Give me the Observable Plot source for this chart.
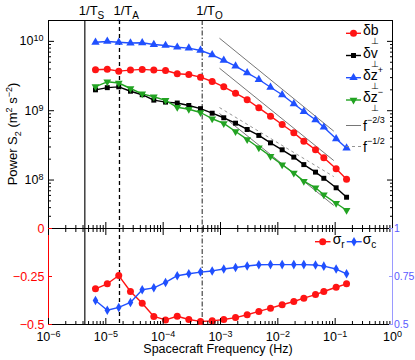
<!DOCTYPE html>
<html><head><meta charset="utf-8">
<script src="https://cdn.jsdelivr.net/npm/d3@7"></script>
<script src="https://cdn.jsdelivr.net/npm/@observablehq/plot@0.6"></script>
<style>
body{margin:0;background:#fff;}
#chart{position:relative;width:415px;height:360px;font-family:"Liberation Sans",Arial,sans-serif;}
#chart svg{position:absolute;left:0;top:0;overflow:visible;}
</style></head><body><div id="chart"></div>
<script>
// ---------- data ----------
const freqHz = [6.6e-6, 1.06e-5, 1.68e-5, 2.69e-5, 4.31e-5, 6.87e-5, 1.10e-4, 1.76e-4, 2.80e-4, 4.48e-4, 7.16e-4, 1.14e-3, 1.83e-3, 2.92e-3, 4.66e-3, 7.45e-3, 1.19e-2, 1.90e-2, 2.84e-2, 4.54e-2, 6.34e-2, 0.104, 0.158];
const powerDb = [3.89e9, 3.97e9, 3.72e9, 3.85e9, 3.94e9, 3.85e9, 3.80e9, 3.41e9, 3.33e9, 3.05e9, 2.64e9, 2.21e9, 1.79e9, 1.44e9, 1.10e9, 8.34e8, 6.32e8, 4.81e8, 3.64e8, 2.73e8, 2.09e8, 1.45e8, 1.03e8];
const powerDv = [2.00e9, 2.15e9, 2.21e9, 1.91e9, 1.70e9, 1.42e9, 1.33e9, 1.29e9, 1.19e9, 1.07e9, 9.20e8, 7.91e8, 6.61e8, 5.36e8, 4.40e8, 3.44e8, 2.73e8, 2.14e8, 1.67e8, 1.30e8, 1.06e8, 7.73e7, 5.65e7];
const powerDzPlus = [9.72e9, 9.98e9, 9.72e9, 9.48e9, 9.55e9, 9.02e9, 8.73e9, 8.24e9, 7.98e9, 7.40e9, 6.41e9, 5.31e9, 4.39e9, 3.52e9, 2.82e9, 2.18e9, 1.70e9, 1.26e9, 9.75e8, 7.40e8, 5.78e8, 3.94e8, 2.88e8];
const powerDzMinus = [2.23e9, 2.61e9, 2.51e9, 2.09e9, 1.75e9, 1.59e9, 1.41e9, 1.12e9, 1.05e9, 9.42e8, 7.66e8, 6.55e8, 5.01e8, 3.85e8, 2.92e8, 2.21e8, 1.66e8, 1.26e8, 9.64e7, 7.73e7, 6.12e7, 4.63e7, 3.67e7];
const sigmaR = [-0.314, -0.288, -0.245, -0.328, -0.389, -0.458, -0.476, -0.457, -0.474, -0.484, -0.481, -0.474, -0.464, -0.449, -0.432, -0.415, -0.397, -0.380, -0.363, -0.344, -0.328, -0.306, -0.288];
const sigmaC = [0.625, 0.574, 0.589, 0.615, 0.681, 0.691, 0.719, 0.754, 0.764, 0.773, 0.779, 0.789, 0.797, 0.805, 0.811, 0.812, 0.812, 0.812, 0.812, 0.810, 0.804, 0.789, 0.764];

const timescaleNames = ["S", "A", "O"];
const timescaleFreq = [4.3e-6, 1.73e-5, 4.8e-4];

const refExponent = ["−2/3", "−2/3", "−1/2", "−2/3"];
const refF0 = [9.6e-4, 9.6e-4, 9.6e-4, 9.6e-4];
const refF1 = [0.0946, 0.0946, 0.0946, 0.0946];
const refP0 = [1.11e10, 4.10e9, 1.11e9, 9.12e8];
const refP1 = [5.07e8, 1.91e8, 1.12e8, 4.30e7];

const xTickValues = [1e-6, 1e-5, 1e-4, 1e-3, 1e-2, 1e-1, 1];
const xTickLabels = ["10^−6", "10^−5", "10^−4", "10^−3", "10^−2", "10^−1", "10^0"];
const yTickValues = [1e8, 1e9, 1e10];
const yTickLabels = ["10^8", "10^9", "10^10"];
const sigmaRTicks = [-0.5, -0.25, 0];
const sigmaRTickLabels = ["−0.5", "−0.25", "0"];
const sigmaCTicks = [0.5, 0.75, 1];
const sigmaCTickLabels = ["0.5", "0.75", "1"];

const seriesNames = ["b", "v", "z+", "z−"];
const xLabel = "Spacecraft Frequency (Hz)";

// ---------- styling ----------
const font = "'Liberation Sans', Arial, sans-serif";
const C = {red: "#ff1414", black: "#000000", blue: "#2050ff", green: "#22a322", axisBlue: "#5a5aff", axisBlueLine: "#9a9aff"};
const series = [
  {name: seriesNames[0], values: powerDb, color: C.red, symbol: "circle", r: 3.5, rotate: 0},
  {name: seriesNames[1], values: powerDv, color: C.black, symbol: "square", r: 2.8, rotate: 0},
  {name: seriesNames[2], values: powerDzPlus, color: C.blue, symbol: "triangle", r: 3.1, rotate: 0},
  {name: seriesNames[3], values: powerDzMinus, color: C.green, symbol: "triangle", r: 2.9, rotate: 180}
];
const refRows = refExponent.map((e, i) => ({e, f0: refF0[i], f1: refF1[i], p0: refP0[i], p1: refP1[i]}));
const xDomain = [1e-6, 1];
const minorOf = (lo, hi) => { const out = []; for (let e = lo; e < hi; e++) for (let m = 2; m <= 9; m++) out.push(m * Math.pow(10, e)); return out; };
const xMinor = minorOf(-6, 0);
const yMinor = minorOf(7, 11).filter(v => v >= 2e7 && v <= 2e10);

const common = {
  width: 415, height: 360, marginLeft: 48, marginRight: 23,
  x: {type: "log", domain: xDomain, axis: null},
  style: {background: "transparent", fontFamily: font, fontSize: "12.5px", overflow: "visible"}
};
const tsRules = () => [
  Plot.ruleX([timescaleFreq[0]], {stroke: "#222", strokeWidth: 1.3}),
  Plot.ruleX([timescaleFreq[1]], {stroke: "#000", strokeWidth: 1.3, strokeDasharray: "4,3"}),
  Plot.ruleX([timescaleFreq[2]], {stroke: "#555", strokeWidth: 1.3, strokeDasharray: "5,2,1.5,2"})
];

// ---------- top panel ----------
const topRows = series.flatMap(s => freqHz.map((f, i) => ({f, p: s.values[i], name: s.name})));
const topPlot = Plot.plot({
  ...common, marginTop: 20, marginBottom: 132,
  y: {type: "log", domain: [2e7, 2e10]},
  marks: [
    ...tsRules(),
    Plot.link(refRows.filter(d => d.e === "−2/3"), {x1: "f0", y1: "p0", x2: "f1", y2: "p1", stroke: "#666", strokeWidth: 0.9}),
    Plot.link(refRows.filter(d => d.e === "−1/2"), {x1: "f0", y1: "p0", x2: "f1", y2: "p1", stroke: "#888", strokeWidth: 0.9, strokeDasharray: "3,3"}),
    ...series.flatMap(s => [
      Plot.line(topRows.filter(d => d.name === s.name), {x: "f", y: "p", stroke: s.color, strokeWidth: 1.4}),
      Plot.dot(topRows.filter(d => d.name === s.name), {x: "f", y: "p", fill: s.color, stroke: "none", symbol: s.symbol, r: s.r, rotate: s.rotate})
    ]),
    Plot.frame({stroke: "#000", strokeWidth: 1}),
    Plot.axisY(yTickValues, {anchor: "left", tickSize: -6, fill: "none", label: null}),
    Plot.axisY(yMinor, {anchor: "left", tickSize: -3, fill: "none", label: null}),
    Plot.axisY(yTickValues, {anchor: "right", tickSize: -6, fill: "none", label: null}),
    Plot.axisY(yMinor, {anchor: "right", tickSize: -3, fill: "none", label: null}),
    Plot.axisY(yTickValues, {anchor: "left", tickSize: 0, tickPadding: 5, label: null, tickFormat: d => yTickLabels[yTickValues.indexOf(d)]}),
    Plot.axisX(xTickValues, {anchor: "bottom", tickSize: -6, fill: "none", label: null}),
    Plot.axisX(xMinor, {anchor: "bottom", tickSize: -3, fill: "none", label: null})
  ]
});

// ---------- bottom panel: sigma_r (left axis) ----------
const rRows = freqHz.map((f, i) => ({f, v: sigmaR[i]}));
const botPlot = Plot.plot({
  ...common, marginTop: 228, marginBottom: 36,
  y: {domain: [-0.5, 0]},
  marks: [
    ...tsRules(),
    Plot.ruleY([sigmaRTicks[0]], {stroke: "#000"}),
    Plot.ruleY([sigmaRTicks[2]], {stroke: "#000"}),
    Plot.ruleX([xDomain[0]], {stroke: "#ff0000"}),
    Plot.line(rRows, {x: "f", y: "v", stroke: C.red, strokeWidth: 1.4}),
    Plot.dot(rRows, {x: "f", y: "v", fill: C.red, r: 3.5}),
    Plot.axisY(sigmaRTicks, {anchor: "left", tickSize: -4, fill: "none", stroke: "#ff0000", label: null}),
    Plot.axisY(sigmaRTicks, {anchor: "left", tickSize: 0, tickPadding: 4, fill: "#ff0000", label: null, tickFormat: d => sigmaRTickLabels[sigmaRTicks.indexOf(d)]}),
    Plot.axisX(xTickValues, {anchor: "bottom", tickSize: -6, fill: "none", label: null}),
    Plot.axisX(xMinor, {anchor: "bottom", tickSize: -3, fill: "none", label: null}),
    Plot.axisX(xTickValues, {anchor: "top", tickSize: -6, fill: "none", label: null}),
    Plot.axisX(xMinor, {anchor: "top", tickSize: -3, fill: "none", label: null}),
    Plot.axisX(xTickValues, {anchor: "bottom", tickSize: 0, tickPadding: 8, label: null, tickFormat: d => xTickLabels[xTickValues.indexOf(d)]})
  ]
});

// ---------- bottom panel: sigma_c (right axis) ----------
const cRows = freqHz.map((f, i) => ({f, v: sigmaC[i]}));
const botCPlot = Plot.plot({
  ...common, marginTop: 228, marginBottom: 36,
  y: {domain: [0.5, 1]},
  marks: [
    Plot.ruleX([xDomain[1]], {stroke: C.axisBlueLine}),
    Plot.line(cRows, {x: "f", y: "v", stroke: C.blue, strokeWidth: 1.4}),
    Plot.dot(cRows, {x: "f", y: "v", fill: C.blue, symbol: "diamond", r: 2.9}),
    Plot.axisY(sigmaCTicks, {anchor: "right", tickSize: -4, fill: "none", stroke: C.axisBlueLine, label: null}),
    Plot.axisY(sigmaCTicks, {anchor: "right", tickSize: 0, tickPadding: 1.5, fill: C.axisBlue, label: null, fontSize: 10.5, tickFormat: d => sigmaCTickLabels[sigmaCTicks.indexOf(d)]})
  ]
});

const chart = document.getElementById("chart");
chart.append(topPlot, botPlot, botCPlot);

// ---------- superscripts in tick labels ----------
for (const svg of [topPlot, botPlot, botCPlot]) {
  svg.querySelectorAll("text").forEach(t => {
    const s = t.textContent;
    if (s.includes("^")) {
      const [base, exp] = s.split("^");
      t.textContent = base;
      const ts = document.createElementNS("http://www.w3.org/2000/svg", "tspan");
      ts.setAttribute("dy", "-0.45em");
      ts.setAttribute("font-size", "0.72em");
      ts.textContent = exp;
      t.appendChild(ts);
    }
  });
}

// ---------- rich text helper ----------
function rich(sel, x, y, parts, {anchor = "start", fill = "#000", size = 13} = {}) {
  const g = sel.append("g").attr("font-family", font).attr("fill", fill).attr("text-anchor", "start");
  let cx = 0, lastStart = 0;
  for (const p of parts) {
    const px = p.under ? lastStart : cx;
    const t = g.append("text").attr("x", px).attr("y", p.dy || 0).attr("font-size", p.size || size).attr("text-anchor", "start").text(p.t);
    const w = t.node().getComputedTextLength();
    if (!p.under) { lastStart = px; cx = px + w; }
  }
  const shift = anchor === "middle" ? -cx / 2 : anchor === "end" ? -cx : 0;
  g.attr("transform", `translate(${x + shift},${y})`);
  return g;
}

const xs = topPlot.scale("x");
const svgTop = d3.select(topPlot);
const svgBot = d3.select(botCPlot);

// timescale labels
timescaleNames.forEach((n, i) => {
  rich(svgTop, xs.apply(timescaleFreq[i]) - 5.5, 15, [{t: "1/T"}, {t: n, size: 10, dy: 4}], {size: 13});
});

// y-axis label (rotated)
const yl = svgTop.append("g").attr("transform", "translate(17,134) rotate(-90)");
rich(yl, 0, 0, [
  {t: "Power S"}, {t: "2", size: 9, dy: 4}, {t: " (m"}, {t: "2", size: 9, dy: -5}, {t: " s"}, {t: "−2", size: 9, dy: -5}, {t: ")"}
], {anchor: "middle", size: 13});

// x-axis label
rich(svgBot, (48 + 392) / 2 - 2, 353, [{t: xLabel}], {anchor: "middle", size: 12.5});

// top legend
const symArea = r => Math.PI * r * r;
const symMap = {circle: d3.symbolCircle, square: d3.symbolSquare, triangle: d3.symbolTriangle, diamond: d3.symbolDiamond};
const legRows = [33.3, 55.5, 77.7, 100, 125.5, 146.5];
series.forEach((s, i) => {
  const y = legRows[i];
  svgTop.append("line").attr("x1", 346).attr("x2", 361).attr("y1", y).attr("y2", y).attr("stroke", s.color).attr("stroke-width", 1.4);
  svgTop.append("path").attr("d", d3.symbol(symMap[s.symbol], symArea(s.r))()).attr("fill", s.color)
    .attr("transform", `translate(353.5,${y}) rotate(${s.rotate})`);
  const nm = s.name;
  const parts = [{t: "δ", size: 14}, {t: nm[0], size: 14}, {t: "⊥", size: 9, dy: 9, under: true}];
  if (nm.length > 1) parts.push({t: nm.slice(1), size: 9, dy: -7});
  rich(svgTop, 363, y + 2, parts, {size: 14});
});
[["−2/3", null], ["−1/2", "3,3"]].forEach(([e, dash], j) => {
  const y = legRows[4 + j];
  const ln = svgTop.append("line").attr("x1", 346).attr("x2", 361).attr("y1", y).attr("y2", y).attr("stroke", dash ? "#888" : "#666").attr("stroke-width", 0.9);
  if (dash) ln.attr("stroke-dasharray", dash);
  rich(svgTop, 363, y + 5, [{t: "f", size: 14}, {t: e, size: 9, dy: -8}], {size: 14});
});

// bottom legend
const by = 241.7;
svgBot.append("line").attr("x1", 315).attr("x2", 330.5).attr("y1", by).attr("y2", by).attr("stroke", C.red).attr("stroke-width", 1.4);
svgBot.append("path").attr("d", d3.symbol(d3.symbolCircle, symArea(3.5))()).attr("fill", C.red).attr("transform", `translate(322.7,${by})`);
rich(svgBot, 332.7, by + 2.5, [{t: "σ", size: 14}, {t: "r", size: 10, dy: 4}], {size: 14});
svgBot.append("line").attr("x1", 346.7).attr("x2", 361.7).attr("y1", by).attr("y2", by).attr("stroke", C.blue).attr("stroke-width", 1.4);
svgBot.append("path").attr("d", d3.symbol(d3.symbolDiamond, symArea(2.9))()).attr("fill", C.blue).attr("transform", `translate(354,${by})`);
rich(svgBot, 362.7, by + 2.5, [{t: "σ", size: 14}, {t: "c", size: 10, dy: 4}], {size: 14});
</script>
</body></html>
